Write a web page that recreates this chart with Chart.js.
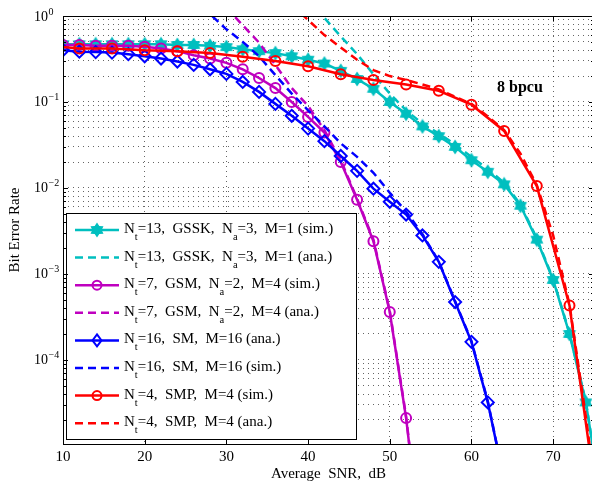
<!DOCTYPE html>
<html>
<head>
<meta charset="utf-8">
<script src="https://cdn.jsdelivr.net/npm/chart.js@4.4.1/dist/chart.umd.min.js"></script>
<style>
  html, body { margin: 0; padding: 0; background: #fff; overflow: hidden; }
  #ber { display: block; }
</style>
</head>
<body>
<canvas id="ber" width="602" height="485"></canvas>
<script>
  // SNR grids (dB)
  const snr2 = [10,12,14,16,18,20,22,24,26,28,30,32,34,36,38,40,42,44,46,48,50,52,54,56,58,60,62,64,66,68,70,72,74,76];
  const snr4 = [10,12,16,20,24,28,32,36,40,44,48,52,56,60,64,68,72,76];

  // tick labels
  const xTicks = [10,20,30,40,50,60,70];
  const yLabelValues = [1e-4, 1e-3, 1e-2, 1e-1, 1];
  const yLabelExp = ['\u22124', '\u22123', '\u22122', '\u22121', '0'];
  const yMantissa = [1,2,3,4,5,6,7,8,9];
  const yDecades = [1e-5, 1e-4, 1e-3, 1e-2, 1e-1];

  // GSSK, Nt=13, Na=3
  const gsskSim = [0.47,0.47,0.47,0.47,0.47,0.47,0.47,0.46,0.46,0.45,0.435,0.41,0.39,0.37,0.34,0.31,0.28,0.23,0.185,0.142,
                   0.10,0.073,0.052,0.040,0.030,0.021,0.0154,0.011,0.0062,0.0025,8.5e-4,2.0e-4,3.2e-5,2e-6];
  const gsskAna = [null,null,null,null,null,null,null,null,null,null,null,null,null,null,null,
                   1.6,0.95,0.58,0.36,0.21,0.125,0.080,0.056,0.043,0.032,0.023,0.0165,0.0115,0.0064,0.0026,8.7e-4,2.05e-4,3.3e-5,2e-6];
  // GSM, Nt=7, Na=2, M=4
  const gsmSim = [0.46,0.46,0.45,0.45,0.45,0.44,0.42,0.39,0.35,0.32,0.285,0.24,0.19,0.145,0.10,0.067,0.044,0.020,0.0073,0.0024,
                  3.6e-4,2.1e-5,5e-7,null,null,null,null,null,null,null,null,null,null,null];
  const gsmAna = [null,null,null,null,null,null,null,null,null,null,
                  1.25,0.78,0.49,0.27,0.145,0.09,0.047,0.021,0.0075,0.0025,3.7e-4,2.2e-5,5e-7,
                  null,null,null,null,null,null,null,null,null,null,null];
  // SM, Nt=16, M=16
  const smSolid = [0.40,0.385,0.38,0.375,0.36,0.34,0.32,0.295,0.27,0.24,0.212,0.171,0.131,0.095,0.069,0.049,0.035,0.0235,0.0158,0.0098,
                   0.0069,0.0049,0.0028,0.00138,4.7e-4,1.62e-4,3.2e-5,4e-6,null,null,null,null,null,null];
  const smDashed = [null,null,null,null,null,null,null,null,
                    1.6,1.05,0.70,0.50,0.34,0.205,0.125,0.080,0.052,0.033,0.023,0.015,0.0088,0.0053,0.0029,0.0014,4.8e-4,1.65e-4,3.3e-5,4e-6,
                    null,null,null,null,null,null];
  // SMP, Nt=4, M=4
  const smpSim = [0.435,0.42,0.42,0.40,0.39,0.37,0.335,0.30,0.26,0.21,0.18,0.16,0.135,0.093,0.046,0.0105,4.3e-4,8e-7];
  const smpAna = [null,null,null,null,null,null,null,null,null,null,null,null,null,null,
                  1.35,0.9,0.6,0.43,0.31,0.235,0.2,0.18,0.16,0.14,0.115,0.095,0.068,0.047,0.025,0.0108,0.0028,4.4e-4,2.2e-5,8e-7];

  const CYAN = '#00bfbf', MAG = '#bf00bf', BLUE = '#0000ff', RED = '#ff0000';
  const SERIF = '"Liberation Serif", "Times New Roman", serif';

  // filled six-pointed star marker
  function hexagram(size, color) {
    const c = document.createElement('canvas');
    c.width = c.height = size;
    const g = c.getContext('2d');
    const R = size / 2 - 0.5, r = R * 0.62, m = size / 2;
    g.beginPath();
    for (let i = 0; i < 12; i++) {
      const a = -Math.PI / 2 + i * Math.PI / 6;
      const rr = i % 2 ? r : R;
      g.lineTo(m + rr * Math.cos(a), m + rr * Math.sin(a));
    }
    g.closePath();
    g.fillStyle = color;
    g.fill();
    return c;
  }
  const star = hexagram(16, CYAN);

  function pts(xs, ys) {
    return xs.map((x, i) => ({x: x, y: ys[i]}));
  }

  function series(label, xs, ys, color, extra) {
    return Object.assign({
      label: label,
      data: pts(xs, ys),
      borderColor: color,
      backgroundColor: 'rgba(0,0,0,0)',
      borderWidth: 2.5,
      pointRadius: 0,
      pointBorderColor: color,
      pointBackgroundColor: 'rgba(0,0,0,0)',
      pointBorderWidth: 2,
      tension: 0,
      clip: 0,
      fill: false
    }, extra);
  }

  const datasets = [
    series('N_t=13,  GSSK,  N_a=3,  M=1 (sim.)', snr2, gsskSim, CYAN, {pointStyle: star, pointRadius: 6, order: 8}),
    series('N_t=13,  GSSK,  N_a=3,  M=1 (ana.)', snr2, gsskAna, CYAN, {borderDash: [8, 5], order: 7}),
    series('N_t=7,  GSM,  N_a=2,  M=4 (sim.)', snr2, gsmSim, MAG, {pointStyle: 'circle', pointRadius: 5, order: 6}),
    series('N_t=7,  GSM,  N_a=2,  M=4 (ana.)', snr2, gsmAna, MAG, {borderDash: [8, 5], order: 5}),
    series('N_t=16,  SM,  M=16 (ana.)', snr2, smSolid, BLUE, {pointStyle: 'rectRot', pointRadius: 6, order: 4}),
    series('N_t=16,  SM,  M=16 (sim.)', snr2, smDashed, BLUE, {borderDash: [8, 5], order: 3}),
    series('N_t=4,  SMP,  M=4 (sim.)', snr4, smpSim, RED, {pointStyle: 'circle', pointRadius: c => c.dataIndex === 0 ? 0 : 5, order: 2}),
    series('N_t=4,  SMP,  M=4 (ana.)', snr2, smpAna, RED, {borderDash: [8, 5], order: 1})
  ];

  // text with _x subscripts
  function richText(ctx, text, x, y, size) {
    const parts = text.split(/(_\w)/);
    let cx = x;
    parts.forEach(p => {
      if (!p) return;
      if (p.length === 2 && p[0] === '_') {
        ctx.font = (size * 0.7) + 'px ' + SERIF;
        ctx.fillText(p[1], cx, y + 7);
        cx += ctx.measureText(p[1]).width;
      } else {
        ctx.font = size + 'px ' + SERIF;
        ctx.fillText(p, cx, y);
        cx += ctx.measureText(p).width;
      }
    });
  }

  const decor = {
    id: 'decor',
    afterDraw(chart) {
      const ctx = chart.ctx;
      const a = chart.chartArea;
      const ys = chart.scales.y, xs = chart.scales.x;
      ctx.save();

      // legend
      const lx = 66, ly = 213, lw = 290, lh = 226;
      ctx.fillStyle = '#fff';
      ctx.fillRect(lx, ly, lw, lh);
      ctx.strokeStyle = '#000';
      ctx.lineWidth = 1;
      ctx.setLineDash([]);
      ctx.strokeRect(lx + 0.5, ly + 0.5, lw, lh);
      chart.data.datasets.forEach((ds, i) => {
        const cy = 230 + i * 27.6;
        ctx.strokeStyle = ds.borderColor;
        ctx.lineWidth = ds.borderWidth;
        ctx.setLineDash(ds.borderDash || []);
        ctx.beginPath();
        ctx.moveTo(75, cy);
        ctx.lineTo(119, cy);
        ctx.stroke();
        ctx.setLineDash([]);
        if (ds.pointStyle === star) {
          ctx.drawImage(star, 97 - star.width / 2, cy - star.height / 2);
        } else if (ds.pointStyle === 'circle') {
          ctx.lineWidth = 2;
          ctx.beginPath();
          ctx.arc(97, cy, 4.5, 0, Math.PI * 2);
          ctx.stroke();
        } else if (ds.pointStyle === 'rectRot') {
          ctx.lineWidth = 2;
          ctx.beginPath();
          ctx.moveTo(97, cy - 6);
          ctx.lineTo(101.5, cy);
          ctx.lineTo(97, cy + 6);
          ctx.lineTo(92.5, cy);
          ctx.closePath();
          ctx.stroke();
        }
        ctx.fillStyle = '#000';
        ctx.textAlign = 'left';
        ctx.textBaseline = 'alphabetic';
        richText(ctx, ds.label, 124, cy + 3, 15);
      });

      // box and inside ticks
      ctx.strokeStyle = '#000';
      ctx.lineWidth = 1;
      ctx.setLineDash([]);
      ctx.strokeRect(a.left + 0.5, a.top + 0.5, a.right - a.left - 1, a.bottom - a.top);
      ctx.beginPath();
      xTicks.forEach(v => {
        const px = Math.round(xs.getPixelForValue(v)) + 0.5;
        ctx.moveTo(px, a.bottom); ctx.lineTo(px, a.bottom - 5);
        ctx.moveTo(px, a.top); ctx.lineTo(px, a.top + 5);
      });
      yDecades.forEach(d => {
        yMantissa.forEach(m => {
          const v = d * m;
          if (v < ys.min || v > ys.max) return;
          const py = Math.round(ys.getPixelForValue(v)) + 0.5;
          const len = m === 1 ? 5 : 3;
          ctx.moveTo(a.left, py); ctx.lineTo(a.left + len, py);
          ctx.moveTo(a.right, py); ctx.lineTo(a.right - len, py);
        });
      });
      ctx.stroke();

      // y tick labels 10^k
      ctx.fillStyle = '#000';
      ctx.textAlign = 'left';
      ctx.textBaseline = 'alphabetic';
      yLabelValues.forEach((v, i) => {
        const py = ys.getPixelForValue(v);
        ctx.font = '14px ' + SERIF;
        ctx.fillText('10', 34, py + 4.5);
        const w = ctx.measureText('10').width;
        ctx.font = '10px ' + SERIF;
        ctx.fillText(yLabelExp[i], 34 + w + 0.5, py - 1.5);
      });

      // annotation
      ctx.font = 'bold 16px ' + SERIF;
      ctx.textBaseline = 'middle';
      ctx.fillText('8 bpcu', 497, 88);
      ctx.restore();
    }
  };

  const gridColor = 'rgba(0,0,0,0.6)';

  new Chart(document.getElementById('ber'), {
    type: 'line',
    data: {datasets: datasets},
    options: {
      responsive: false,
      maintainAspectRatio: false,
      devicePixelRatio: 1,
      animation: false,
      events: [],
      layout: {padding: {top: 16, right: 2, left: 0, bottom: 0}},
      plugins: {legend: {display: false}, tooltip: {enabled: false}},
      scales: {
        x: {
          type: 'linear',
          min: 10,
          max: 75,
          afterBuildTicks: s => { s.ticks = xTicks.map(v => ({value: v})); },
          afterFit: s => { s.height = 41; s.paddingLeft = 0; s.paddingRight = 0; },
          ticks: {color: '#000', font: {family: SERIF, size: 15}, padding: 4, maxRotation: 0},
          grid: {color: gridColor, lineWidth: 1, drawTicks: false},
          border: {display: false, dash: [1, 4]},
          title: {display: true, text: 'Average  SNR,  dB', color: '#000',
                  font: {family: SERIF, size: 15}, padding: {top: 0, bottom: 2}}
        },
        y: {
          type: 'logarithmic',
          min: 1.05e-5,
          max: 1,
          afterBuildTicks: s => {
            const t = [];
            yDecades.forEach(d => yMantissa.forEach(m => {
              const v = d * m;
              if (v >= s.min && v <= s.max) t.push({value: v});
            }));
            t.push({value: 1});
            s.ticks = t;
          },
          afterFit: s => { s.width = 63; s.paddingTop = 0; s.paddingBottom = 0; },
          ticks: {display: false},
          grid: {color: gridColor, lineWidth: 1, drawTicks: false},
          border: {display: false, dash: [1, 4]},
          title: {display: true, text: 'Bit Error Rate', color: '#000',
                  font: {family: SERIF, size: 15}, padding: {top: 6, bottom: 0}}
        }
      }
    },
    plugins: [decor]
  });
</script>
</body>
</html>
